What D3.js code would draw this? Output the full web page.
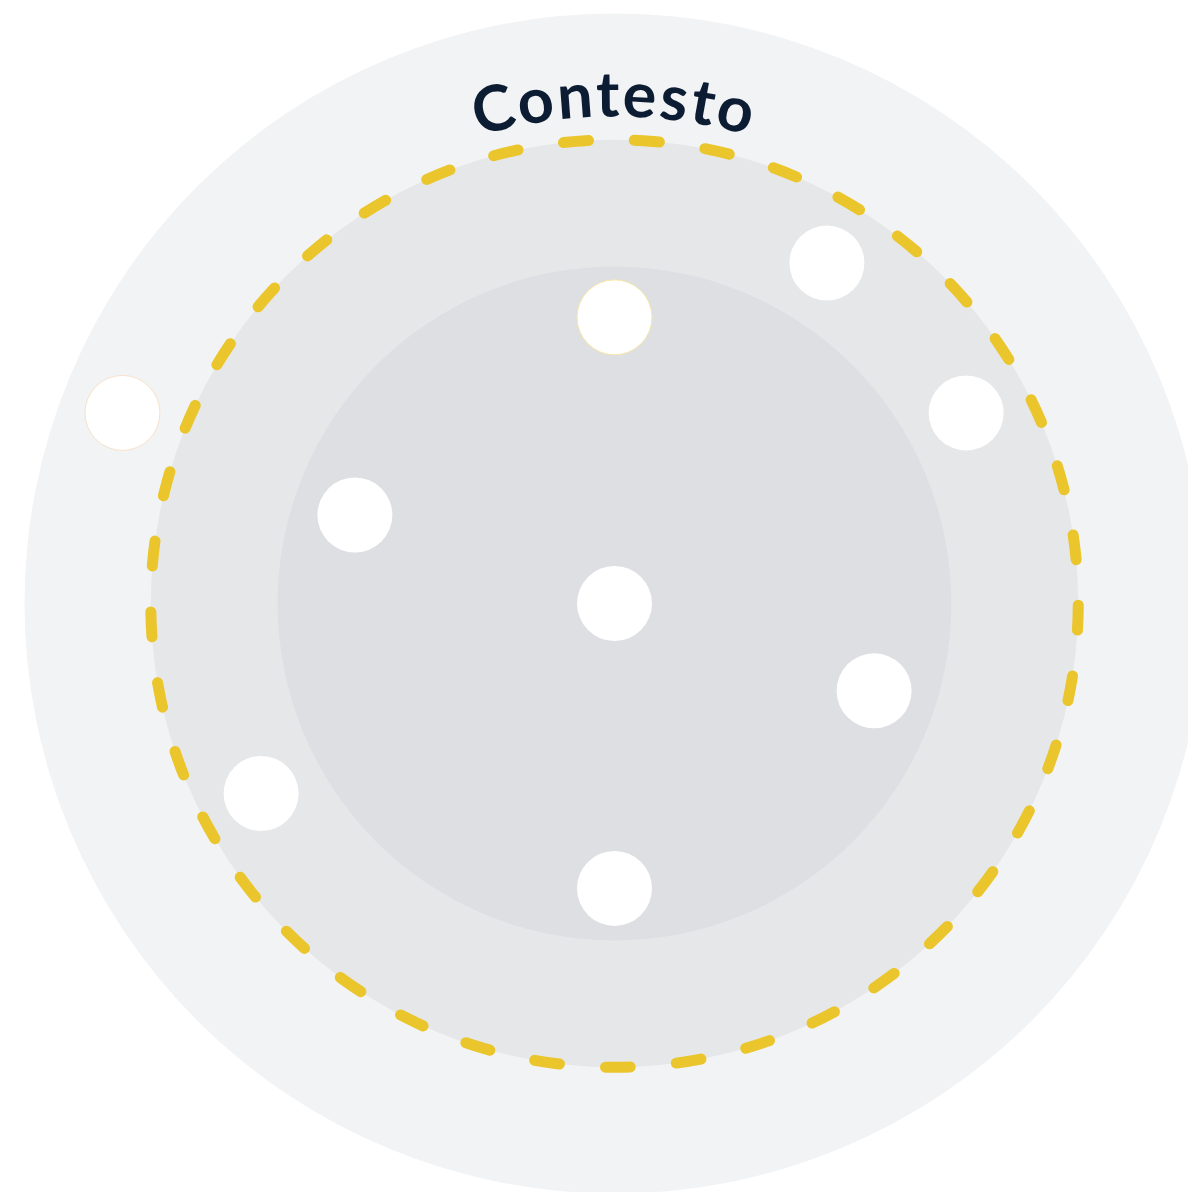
<!DOCTYPE html>
<html>
<head>
<meta charset="utf-8">
<script src="https://cdn.jsdelivr.net/npm/d3@7"></script>
<style>
	html, body { margin: 0; padding: 0; background: #fff; }
	svg { display: block; }
</style>
</head>
<body>
<svg id="rings_svg"></svg>
<script>

// rings, in units where the outer ring is 100
var rings = ['outer', 'middle', 'inner']
var ringRadius = [100, 78.6, 57.1]
var ringFill = ['#f2f3f5', '#e6e7e9', '#dedfe2']

var boundaryRadius = 78.6
var dashCount = 41

var title = 'Contesto'

// dots, same units, origin in the centre
var dotX = [0, 36, 59.6, -83.4, -44, 0, 44, -59.9, 0]
var dotY = [-48.5, -57.7, -32.3, -32.3, -15, 0, 14.8, 32.2, 48.3]
var dotStroke = ['#f7e7a6', 'none', 'none', '#f8e2c8', 'none', 'none', 'none', 'none', 'none']

function rings_chart() {

	var w = 1188;
	var h = 1192;
	var cx = 614.5;
	var cy = 603.5;
	var R = 590;

	var svg = d3.select('#rings_svg')
		.attr('width', w)
		.attr('height', h)

	var x = d3.scaleLinear().domain([-100, 100]).range([cx - R, cx + R])
	var y = d3.scaleLinear().domain([-100, 100]).range([cy - R, cy + R])
	var r = d3.scaleLinear().domain([0, 100]).range([0, R])

	svg.selectAll('.ring')
		.data(rings)
		.enter().append('circle')
		.attr('class', 'ring')
		.attr('cx', x(0))
		.attr('cy', y(0))
		.attr('r', (d, i) => r(ringRadius[i]))
		.attr('fill', (d, i) => ringFill[i])

	// dashed boundary, 41 dashes, one sitting right at the bottom
	var br = r(boundaryRadius)
	var circ = 2 * Math.PI * br
	var period = circ / dashCount
	var dash = 25
	var offset = dash / 2 - (circ / 4 - 3.5)
	offset = ((offset % period) + period) % period

	svg.append('circle')
		.attr('class', 'boundary')
		.attr('cx', x(0))
		.attr('cy', y(0))
		.attr('r', br)
		.attr('fill', 'none')
		.attr('stroke', '#eac52b')
		.attr('stroke-width', 11)
		.attr('stroke-linecap', 'round')
		.attr('stroke-dasharray', dash + ' ' + (period - dash))
		.attr('stroke-dashoffset', offset)

	// curved title
	var tr = 487
	var arcPath = d3.path()
	arcPath.arc(x(0), y(0), tr, -Math.PI, 0)

	svg.append('path')
		.attr('id', 'title_arc')
		.attr('d', arcPath.toString())
		.attr('fill', 'none')

	svg.append('text')
		.attr('fill', '#0c1c33')
		.style('font-family', 'Lato, "Open Sans", sans-serif')
		.style('font-weight', 700)
		.style('font-size', '63px')
		.style('letter-spacing', '2.5px')
		.append('textPath')
		.attr('href', '#title_arc')
		.attr('startOffset', '50%')
		.style('text-anchor', 'middle')
		.text(title)

	svg.selectAll('.dot')
		.data(dotX)
		.enter().append('circle')
		.attr('class', 'dot')
		.attr('cx', d => x(d))
		.attr('cy', (d, i) => y(dotY[i]))
		.attr('r', 37.5)
		.attr('fill', '#fff')
		.attr('stroke', (d, i) => dotStroke[i])
		.attr('stroke-width', 1)
}

rings_chart()

</script>
</body>
</html>
